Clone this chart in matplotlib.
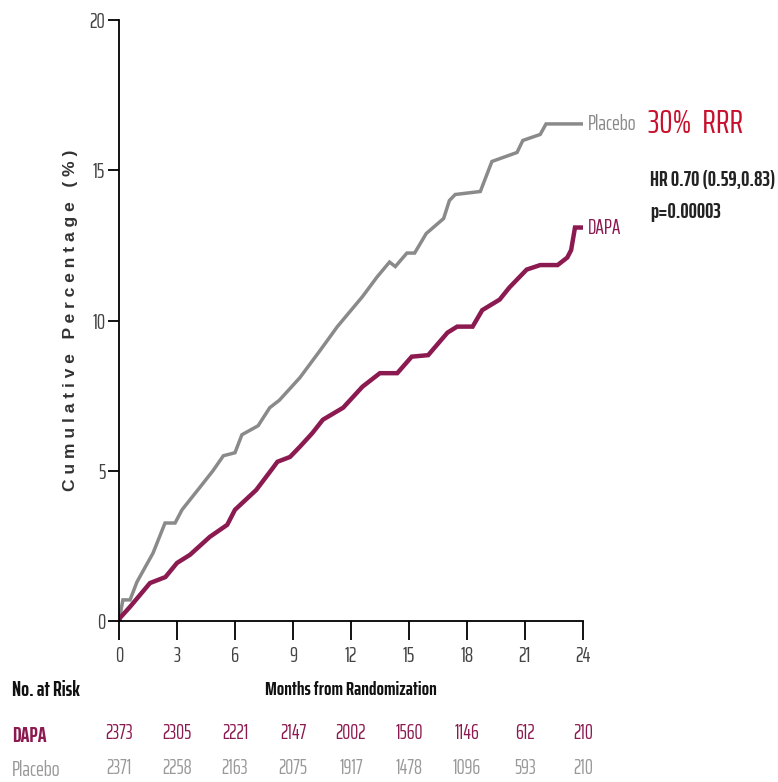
import matplotlib
matplotlib.use("Agg")
import matplotlib.pyplot as plt
from matplotlib.transforms import blended_transform_factory

# Cumulative incidence (%) by month
placebo_months = [0, 0.2, 0.57, 0.93, 1.76, 2.38, 2.9, 3.26, 4.2, 4.86, 5.4, 6.0, 6.36, 7.2, 7.8, 8.3,
                  9.36, 10.4, 11.3, 12.6, 13.35, 14.0, 14.3, 14.9, 15.3, 15.9, 16.8, 17.1, 17.4,
                  18.7, 19.3, 20.6, 20.9, 21.8, 22.1, 24.0]
placebo_pct = [0, 0.7, 0.7, 1.3, 2.26, 3.26, 3.26, 3.7, 4.46, 5.0, 5.5, 5.6, 6.2, 6.5, 7.1, 7.35,
               8.1, 9.0, 9.8, 10.8, 11.45, 11.95, 11.8, 12.25, 12.25, 12.9, 13.4, 14.0, 14.2,
               14.3, 15.3, 15.6, 16.0, 16.2, 16.55, 16.55]

dapa_months = [0, 0.05, 0.57, 1.6, 2.4, 3.0, 3.67, 4.7, 5.6, 6.0, 7.1, 7.97, 8.2, 8.85, 9.36, 10.0,
               10.55, 11.6, 12.6, 13.5, 14.4, 15.15, 16.0, 17.0, 17.5, 18.3, 18.8, 19.7, 20.2,
               21.1, 21.8, 22.7, 23.2, 23.4, 23.6, 24.0]
dapa_pct = [0, 0.1, 0.47, 1.26, 1.46, 1.93, 2.2, 2.8, 3.2, 3.7, 4.36, 5.1, 5.3, 5.46, 5.8, 6.25,
            6.7, 7.1, 7.8, 8.25, 8.25, 8.8, 8.85, 9.6, 9.8, 9.8, 10.35, 10.7, 11.1,
            11.7, 11.85, 11.85, 12.1, 12.35, 13.1, 13.1]

x_ticks = [0, 3, 6, 9, 12, 15, 18, 21, 24]
y_ticks = [0, 5, 10, 15, 20]
risk_dapa = [2373, 2305, 2221, 2147, 2002, 1560, 1146, 612, 210]
risk_placebo = [2371, 2258, 2163, 2075, 1917, 1478, 1096, 593, 210]

GRAY = "#8a8a8a"
MAROON = "#8b1a50"
RED = "#c8102e"
NARROW = ["Saira ExtraCondensed", "DejaVu Sans"]

plt.rcParams["font.family"] = NARROW

fig = plt.figure(figsize=(7.78, 7.82), dpi=100)
ax = fig.add_axes([0.153, 0.206, 0.596, 0.768])

ax.plot(placebo_months, placebo_pct, color=GRAY, lw=2.5, solid_joinstyle="miter")
ax.plot(dapa_months, dapa_pct, color=MAROON, lw=3.2, solid_joinstyle="miter")

ax.set_xlim(0, 24)
ax.set_ylim(0, 20)
ax.set_xticks(x_ticks)
ax.set_yticks(y_ticks)
ax.spines["top"].set_visible(False)
ax.spines["right"].set_visible(False)
for s in ("left", "bottom"):
    ax.spines[s].set_linewidth(1.3)
ax.tick_params(axis="x", length=14, width=1.3, pad=4, labelsize=15, labelcolor="#444444")
ax.tick_params(axis="y", length=8, width=1.3, pad=2, labelsize=15, labelcolor="#444444")

ax.set_ylabel("C u m u l a t i v e   P e r c e n t a g e   ( % )", fontsize=12.5,
              color="#333333", fontweight="bold", labelpad=8,
              family=["Liberation Sans", "DejaVu Sans"])

# Curve labels and effect estimate
ax.text(24.25, 16.55, "Placebo", color=GRAY, fontsize=15, va="center", ha="left")
ax.text(24.25, 13.1, "DAPA", color=MAROON, fontsize=15, va="center", ha="left")
ax.text(27.4, 16.55, "30%  RRR", color=RED, fontsize=24, va="center", ha="left")
ax.text(27.5, 14.68, "HR 0.70 (0.59,0.83)", color="#222222", fontsize=15,
        fontweight="bold", va="center", ha="left")
ax.text(27.5, 13.62, "p=0.00003", color="#222222", fontsize=15,
        fontweight="bold", va="center", ha="left")

# Number-at-risk table
tr = blended_transform_factory(ax.transData, fig.transFigure)
fig.text(0.015, 1 - 690 / 782, "No. at Risk", fontsize=15, fontweight="bold",
         color="#111111", va="center", ha="left")
ax.text(12, 1 - 690 / 782, "Months from Randomization", transform=tr, fontsize=14,
        fontweight="bold", color="#111111", va="center", ha="center")
fig.text(0.015, 1 - 736 / 782, "DAPA", fontsize=15, fontweight="bold",
         color=MAROON, va="center", ha="left")
fig.text(0.015, 1 - 770 / 782, "Placebo", fontsize=15, color="#999999",
         va="center", ha="left")
for m, d, p in zip(x_ticks, risk_dapa, risk_placebo):
    ax.text(m, 1 - 733 / 782, str(d), transform=tr, fontsize=14.5, color=MAROON,
            va="center", ha="center")
    ax.text(m, 1 - 768 / 782, str(p), transform=tr, fontsize=14.5, color="#999999",
            va="center", ha="center")

fig.savefig("out.png", dpi=100, facecolor="white")
